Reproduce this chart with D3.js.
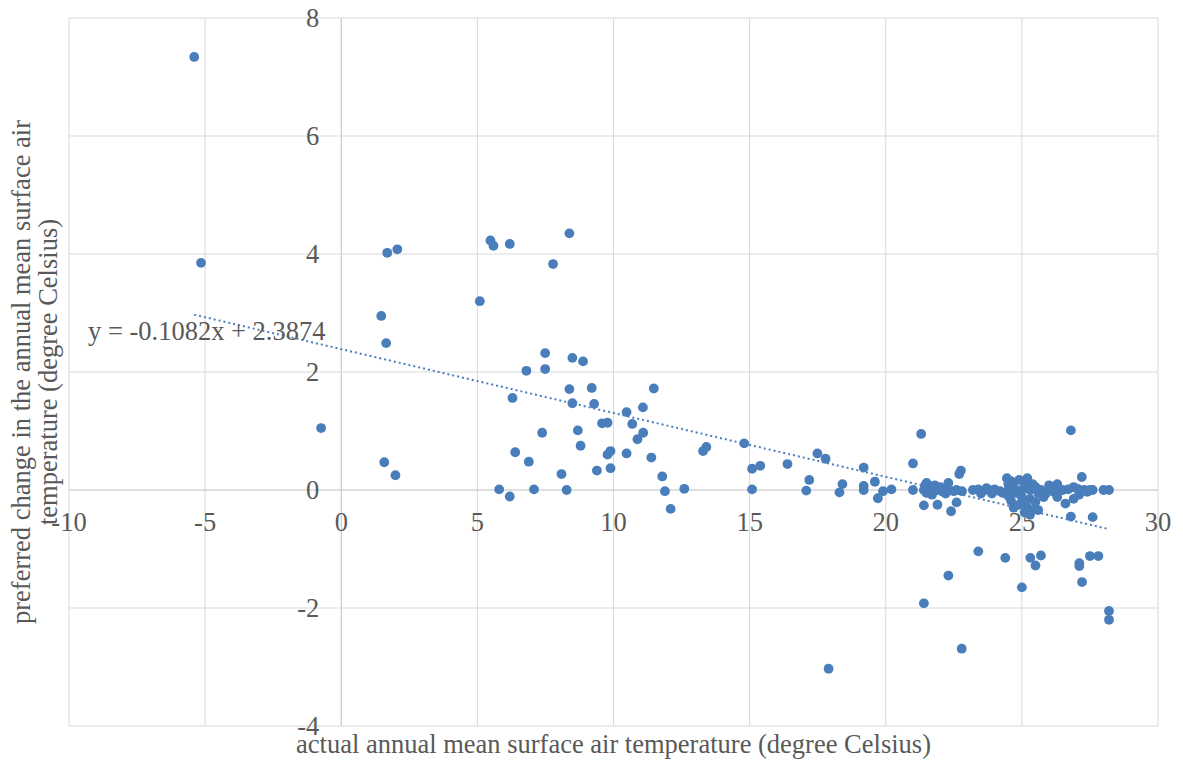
<!DOCTYPE html>
<html>
<head>
<meta charset="utf-8">
<script src="https://cdn.jsdelivr.net/npm/d3@7"></script>
<style>
  body { margin: 0; background: #fff; }
  text { font-family: "Liberation Serif", "Times New Roman", serif; fill: #595959; }
</style>
</head>
<body>
<script>
// actual annual mean temp (x) vs preferred change (y)
const actualTemp = [
  -5.4, -5.15, -0.74, 1.47, 1.69, 2.06, 1.65, 1.58, 1.99,
  5.09, 5.48, 5.59, 6.19, 8.38, 7.78, 7.49, 8.49, 8.88, 6.80, 7.49,
  6.29, 8.38, 9.20, 11.48, 8.49, 9.29, 11.08, 10.48, 9.58, 9.78,
  10.69, 11.09, 10.88, 7.38, 8.69, 8.79, 13.29, 13.41, 6.39, 9.78,
  9.89, 10.48, 11.39, 6.89, 9.39, 9.89, 8.09, 11.79, 5.80, 6.19,
  7.08, 8.28, 11.89, 12.60, 12.10,
  14.80, 15.09, 15.39, 15.09, 16.39, 17.49, 17.79, 17.19, 17.08, 18.41,
  18.30, 19.19, 19.19, 19.19, 19.60, 19.71, 19.90, 20.21, 17.90,
  23.40, 22.30, 21.40, 22.79, 24.39, 25.00, 25.31, 25.50, 25.70, 27.11,
  27.11, 27.21, 27.50, 27.81, 28.20, 28.20,
  21.0, 21.3, 21.0, 21.4, 21.5, 21.5, 21.6, 21.8, 21.9, 22.1,
  22.3, 22.3, 22.5, 22.6, 22.8, 21.4, 21.9, 22.4, 22.6, 22.7,
  22.76, 21.45, 21.7, 22.0, 22.2,
  23.2, 23.4, 23.6, 23.8, 24.0, 24.2, 23.5, 23.9, 24.3, 23.7,
  24.45, 24.5, 24.5, 24.5, 24.6, 24.7, 24.8, 24.9, 24.9, 25.0,
  25.0, 25.1, 25.2, 25.2, 25.3, 25.3, 25.4, 25.5, 25.5, 25.6,
  25.6, 25.7, 25.8, 25.9, 26.0, 26.1, 26.2, 24.6, 25.1, 25.4,
  24.7, 25.0, 25.3,
  26.3, 26.3, 26.5, 26.6, 26.7, 26.8, 26.8, 26.9, 27.05, 27.1,
  27.2, 27.3, 27.5, 27.6, 27.6, 28.0, 28.2, 26.9, 27.4
];
const preferredChange = [
  7.34, 3.85, 1.05, 2.95, 4.02, 4.08, 2.49, 0.47, 0.25,
  3.20, 4.23, 4.14, 4.17, 4.35, 3.83, 2.32, 2.24, 2.18, 2.02, 2.05,
  1.56, 1.71, 1.73, 1.72, 1.47, 1.46, 1.40, 1.32, 1.13, 1.14,
  1.12, 0.97, 0.86, 0.97, 1.01, 0.75, 0.66, 0.73, 0.64, 0.60,
  0.66, 0.62, 0.55, 0.48, 0.33, 0.37, 0.27, 0.23, 0.01, -0.11,
  0.01, 0.00, -0.02, 0.02, -0.32,
  0.79, 0.36, 0.41, 0.01, 0.44, 0.62, 0.53, 0.17, -0.01, 0.10,
  -0.04, 0.38, 0.07, 0.00, 0.14, -0.14, -0.02, 0.01, -3.03,
  -1.04, -1.45, -1.92, -2.69, -1.15, -1.65, -1.15, -1.28, -1.11, -1.24,
  -1.29, -1.56, -1.12, -1.12, -2.05, -2.20,
  0.00, 0.95, 0.45, 0.00, 0.12, -0.05, 0.03, 0.08, 0.00, -0.03,
  0.12, 0.00, -0.02, 0.00, -0.02, -0.26, -0.25, -0.36, -0.21, 0.27,
  0.33, 0.08, -0.08, 0.05, -0.06,
  0.00, 0.01, -0.01, 0.00, 0.01, -0.02, -0.06, -0.06, -0.05, 0.03,
  0.20, 0.10, 0.00, -0.10, -0.18, 0.05, -0.05, 0.17, -0.25, 0.00,
  -0.12, 0.08, 0.20, -0.30, -0.15, 0.00, -0.34, -0.20, 0.05, -0.34,
  -0.05, 0.00, -0.12, -0.05, 0.08, 0.00, -0.04, 0.15, -0.38, 0.10,
  -0.30, -0.22, -0.42,
  0.10, -0.12, 0.00, -0.23, 0.01, -0.45, 1.01, 0.05, 0.02, -0.08,
  0.22, 0.00, 0.00, 0.00, -0.46, 0.00, 0.00, -0.15, -0.03
];
const xTicks = [-10, -5, 0, 5, 10, 15, 20, 25, 30];
const yTicks = [-4, -2, 0, 2, 4, 6, 8];
const slope = -0.1082, intercept = 2.3874;

const width = 1183, height = 764;
const margin = {left: 69, right: 25, top: 18, bottom: 38};
const fs = "26.5px";

const points = actualTemp.map((t, i) => ({x: t, y: preferredChange[i]}));

const x = d3.scaleLinear().domain([-10, 30]).range([margin.left, width - margin.right]);
const y = d3.scaleLinear().domain([-4, 8]).range([height - margin.bottom, margin.top]);

const svg = d3.select("body").append("svg")
  .attr("width", width)
  .attr("height", height);

// gridlines
svg.append("g").selectAll("line").data(xTicks).join("line")
  .attr("x1", d => x(d)).attr("x2", d => x(d))
  .attr("y1", y(-4)).attr("y2", y(8))
  .attr("stroke", d => d === 0 ? "#bfbfbf" : "#d9d9d9").attr("stroke-width", 1);
svg.append("g").selectAll("line").data(yTicks).join("line")
  .attr("x1", x(-10)).attr("x2", x(30))
  .attr("y1", d => y(d)).attr("y2", d => y(d))
  .attr("stroke", d => d === 0 ? "#bfbfbf" : "#d9d9d9").attr("stroke-width", 1);

// tick labels sit along the zero axes
svg.append("g").selectAll("text").data(xTicks).join("text")
  .attr("x", d => x(d)).attr("y", y(0) + 41)
  .attr("text-anchor", "middle")
  .style("font-size", fs)
  .text(d => d);
svg.append("g").selectAll("text").data(yTicks).join("text")
  .attr("x", x(0) - 22).attr("y", d => y(d) + 9)
  .attr("text-anchor", "end")
  .style("font-size", fs)
  .text(d => d);

// trendline
const xs = d3.extent(actualTemp);
svg.append("line")
  .attr("x1", x(xs[0])).attr("y1", y(slope * xs[0] + intercept))
  .attr("x2", x(xs[1])).attr("y2", y(slope * xs[1] + intercept))
  .attr("stroke", "#4a7ebb").attr("stroke-width", 2)
  .attr("stroke-dasharray", "2,3");

// points
svg.append("g").selectAll("circle").data(points).join("circle")
  .attr("cx", d => x(d.x))
  .attr("cy", d => y(d.y))
  .attr("r", 4.9)
  .attr("fill", "#4a7ebb");

// equation label
svg.append("text")
  .attr("x", 88).attr("y", 340)
  .style("font-size", fs)
  .text("y = -0.1082x + 2.3874");

// axis titles
svg.append("text")
  .attr("x", (x(-10) + x(30)) / 2).attr("y", 753)
  .attr("text-anchor", "middle")
  .style("font-size", fs)
  .text("actual annual mean surface air temperature (degree Celsius)");

const yt = svg.append("text")
  .attr("transform", `translate(0, ${(y(-4) + y(8)) / 2}) rotate(-90)`)
  .attr("text-anchor", "middle")
  .style("font-size", fs);
yt.append("tspan").attr("x", 0).attr("y", 30).text("preferred change in the annual mean surface air");
yt.append("tspan").attr("x", 0).attr("y", 57).text("temperature (degree Celsius)");
</script>
</body>
</html>
